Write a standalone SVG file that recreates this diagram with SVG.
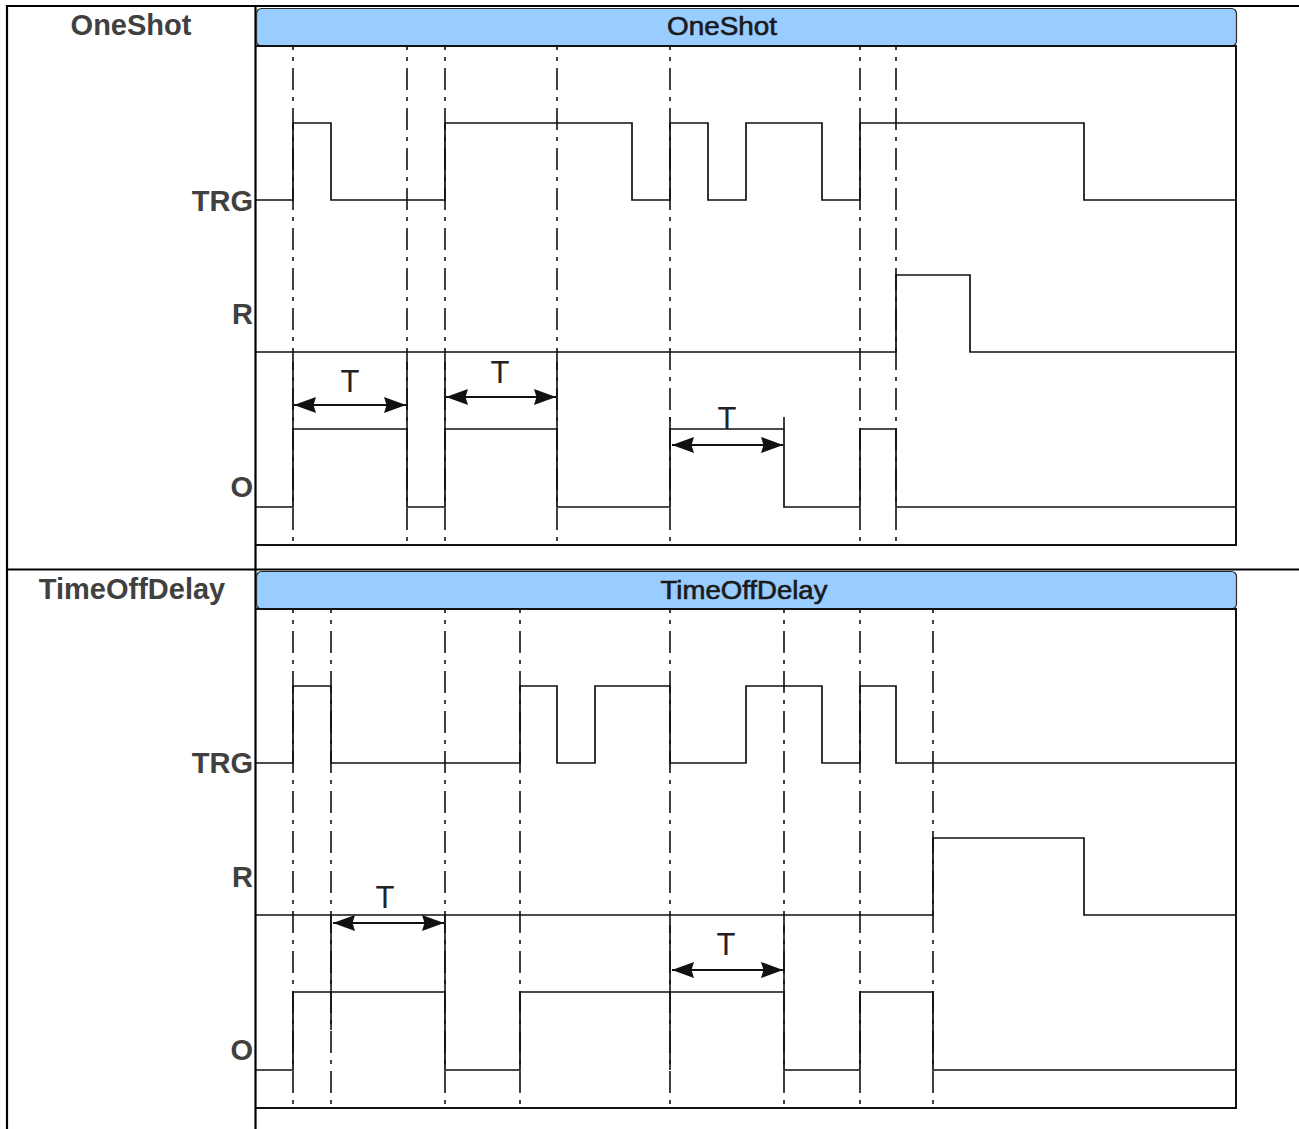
<svg xmlns="http://www.w3.org/2000/svg" width="1299" height="1129" viewBox="0 0 1299 1129">
<style>
.tbl{stroke:#000;stroke-width:2.2;fill:none}
.frame{stroke:#111;stroke-width:2;fill:none}
.hdr{fill:#99CCFF;stroke:#2a2a2a;stroke-width:1.2}
.htxt{font-family:"Liberation Sans",Arial,sans-serif;font-size:25px;fill:#1a1a1a;stroke:#1a1a1a;stroke-width:0.6;text-anchor:middle}
.lbl{font-family:"Liberation Sans",Arial,sans-serif;font-size:29px;font-weight:bold;fill:#404040}
.sig{stroke:#111;stroke-width:1.7;fill:none}
.grid{stroke:#111;stroke-width:1.6;fill:none;stroke-dasharray:22 7 4 7;stroke-dashoffset:18}
.ext{stroke:#111;stroke-width:1.6;fill:none}
.arr{stroke:#111;stroke-width:2;fill:none;marker-start:url(#ah);marker-end:url(#ah)}
.t{font-family:"Liberation Sans",Arial,sans-serif;font-size:31px;fill:#222;text-anchor:middle}
</style>
<defs>
<marker id="ah" viewBox="0 0 22 17" refX="22" refY="8.5" markerWidth="22" markerHeight="17" markerUnits="userSpaceOnUse" orient="auto-start-reverse">
<path d="M0,0.5 L22,8.5 L0,16.5 L2.5,8.5 Z" fill="#111"/>
</marker>
</defs>
<rect width="1299" height="1129" fill="#fff"/>

<g id="table">
<line class="tbl" x1="6" y1="6" x2="1299" y2="6"/>
<line class="tbl" x1="7" y1="5" x2="7" y2="1129"/>
<line class="tbl" x1="255.5" y1="5" x2="255.5" y2="1129"/>
<line class="tbl" x1="6" y1="569.5" x2="1299" y2="569.5"/>
<text class="lbl" x="131" y="35" text-anchor="middle">OneShot</text>
<text class="lbl" x="132" y="599" text-anchor="middle">TimeOffDelay</text>
</g>

<g id="oneshot">
<g id="oneshot-header">
<rect class="hdr" x="256.5" y="8.5" width="980" height="37.5" rx="5"/>
<text class="htxt" x="722" y="35" textLength="110" lengthAdjust="spacingAndGlyphs">OneShot</text>
</g>
<g id="oneshot-frame">
<polyline class="frame" points="256,46 1236,46 1236,545 256,545"/>
</g>
<g id="oneshot-labels">
<text class="lbl" x="253" y="211" text-anchor="end">TRG</text>
<text class="lbl" x="253" y="324" text-anchor="end">R</text>
<text class="lbl" x="253" y="497" text-anchor="end">O</text>
</g>
<g id="oneshot-grid">
<line class="grid" x1="293" y1="46" x2="293" y2="545"/>
<line class="grid" x1="407" y1="46" x2="407" y2="545"/>
<line class="grid" x1="445" y1="46" x2="445" y2="545"/>
<line class="grid" x1="557" y1="46" x2="557" y2="545"/>
<line class="grid" x1="670" y1="46" x2="670" y2="545"/>
<line class="grid" x1="860" y1="46" x2="860" y2="545"/>
<line class="grid" x1="896" y1="46" x2="896" y2="545"/>
</g>
<g id="oneshot-signals">
<polyline id="os-trg" class="sig" points="256,200 293,200 293,123 331,123 331,200 445,200 445,123 632,123 632,200 670,200 670,123 708,123 708,200 746,200 746,123 822,123 822,200 860,200 860,123 1084,123 1084,200 1236,200"/>
<polyline id="os-r" class="sig" points="256,352 896,352 896,275 970,275 970,352 1236,352"/>
<polyline id="os-o" class="sig" points="256,507 293,507 293,429 407,429 407,507 445,507 445,429 557,429 557,507 670,507 670,429 784,429 784,507 860,507 860,429 896,429 896,507 1236,507"/>
</g>
<g id="oneshot-timers">
<line class="ext" x1="293" y1="362" x2="293" y2="429"/>
<line class="ext" x1="407" y1="362" x2="407" y2="429"/>
<line class="arr" x1="294" y1="405" x2="406" y2="405"/>
<text class="t" x="350" y="392">T</text>
<line class="ext" x1="445" y1="362" x2="445" y2="429"/>
<line class="ext" x1="557" y1="362" x2="557" y2="429"/>
<line class="arr" x1="446" y1="397" x2="556" y2="397"/>
<text class="t" x="500" y="383">T</text>
<line class="ext" x1="670" y1="417" x2="670" y2="429"/>
<line class="ext" x1="784" y1="417" x2="784" y2="429"/>
<line class="arr" x1="672" y1="445" x2="783" y2="445"/>
<text class="t" x="727" y="429">T</text>
</g>
</g>

<g id="timeoffdelay" transform="translate(0,563)">
<g id="tod-header">
<rect class="hdr" x="256.5" y="8.5" width="980" height="37.5" rx="5"/>
<text class="htxt" x="744" y="36" textLength="167" lengthAdjust="spacingAndGlyphs">TimeOffDelay</text>
</g>
<g id="tod-frame">
<polyline class="frame" points="256,46 1236,46 1236,545 256,545"/>
</g>
<g id="tod-labels">
<text class="lbl" x="253" y="210" text-anchor="end">TRG</text>
<text class="lbl" x="253" y="324" text-anchor="end">R</text>
<text class="lbl" x="253" y="497" text-anchor="end">O</text>
</g>
<g id="tod-grid">
<line class="grid" x1="293" y1="46" x2="293" y2="545"/>
<line class="grid" x1="331" y1="46" x2="331" y2="545"/>
<line class="grid" x1="445" y1="46" x2="445" y2="545"/>
<line class="grid" x1="520" y1="46" x2="520" y2="545"/>
<line class="grid" x1="670" y1="46" x2="670" y2="545"/>
<line class="grid" x1="784" y1="46" x2="784" y2="545"/>
<line class="grid" x1="860" y1="46" x2="860" y2="545"/>
<line class="grid" x1="933" y1="46" x2="933" y2="545"/>
</g>
<g id="tod-signals">
<polyline id="tod-trg" class="sig" points="256,200 293,200 293,123 331,123 331,200 520,200 520,123 557,123 557,200 595,200 595,123 670,123 670,200 746,200 746,123 822,123 822,200 860,200 860,123 896,123 896,200 1236,200"/>
<polyline id="tod-r" class="sig" points="256,352 933,352 933,275 1084,275 1084,352 1236,352"/>
<polyline id="tod-o" class="sig" points="256,507 293,507 293,429 445,429 445,507 520,507 520,429 784,429 784,507 860,507 860,429 933,429 933,507 1236,507"/>
</g>
<g id="tod-timers">
<line class="ext" x1="331" y1="352" x2="331" y2="467"/>
<line class="ext" x1="445" y1="352" x2="445" y2="429"/>
<line class="arr" x1="333" y1="360" x2="444" y2="360"/>
<text class="t" x="385" y="345">T</text>
<line class="ext" x1="670" y1="362" x2="670" y2="507"/>
<line class="ext" x1="784" y1="362" x2="784" y2="429"/>
<line class="arr" x1="672" y1="407" x2="783" y2="407"/>
<text class="t" x="726" y="392">T</text>
</g>
</g>
</svg>
